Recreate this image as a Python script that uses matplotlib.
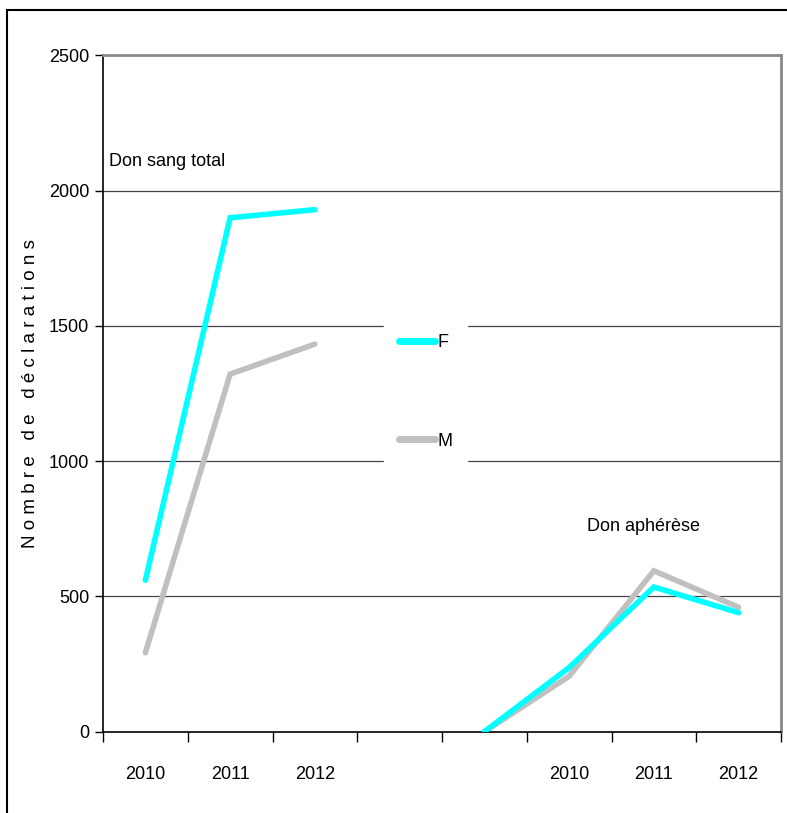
import matplotlib
matplotlib.use('Agg')
import matplotlib.pyplot as plt
from matplotlib.patches import Rectangle
import numpy as np

plt.rcParams['font.family'] = ['Liberation Sans', 'DejaVu Sans']

# Categories: blood donation group, gap, apheresis group
categories = ['2010', '2011', '2012', '', '', '2010', '2011', '2012']
femmes = [560, 1900, 1930, np.nan, 0, 237, 535, 440]
hommes = [292, 1322, 1433, np.nan, 0, 205, 595, 460]

CYAN = '#00FFFF'
GRIS = '#C0C0C0'

W, H = 787, 813
fig = plt.figure(figsize=(W / 100, H / 100), dpi=100)
ax = fig.add_axes([103 / W, (H - 731.7) / H, (781 - 103) / W, (731.7 - 55.5) / H])

x = np.arange(len(categories)) + 0.5
ax.plot(x, femmes, color=CYAN, lw=4, solid_capstyle='round', solid_joinstyle='miter', label='F', zorder=3)
ax.plot(x, hommes, color=GRIS, lw=4, solid_capstyle='round', solid_joinstyle='miter', label='M', zorder=2)

ax.set_xlim(0, len(categories))
ax.set_ylim(0, 2500)

# ticks on category boundaries, labels centred between them
ax.set_xticks(np.arange(len(categories) + 1))
ax.set_xticklabels([])
ax.set_xticks(x, minor=True)
ax.set_xticklabels(categories, minor=True, fontsize=13)
ax.tick_params(axis='x', which='major', direction='out', length=7, width=1, color='black')
ax.tick_params(axis='x', which='minor', length=0, pad=25)

ax.set_yticks([0, 500, 1000, 1500, 2000, 2500])
ax.set_yticklabels(['0', '500', '1000', '1500', '2000', '2500'], fontsize=13)
ax.tick_params(axis='y', direction='out', length=6, width=1, color='black', pad=4)

for v in [500, 1000, 1500, 2000]:
    ax.axhline(v, color='#444444', lw=0.9, zorder=1)

for side in ['left', 'bottom']:
    ax.spines[side].set_color('black')
    ax.spines[side].set_linewidth(1.2)
for side in ['top', 'right']:
    ax.spines[side].set_color('#888888')
    ax.spines[side].set_linewidth(2)

ax.set_ylabel(' '.join('Nombre de déclarations'), fontsize=13.5, labelpad=7)

ax.text(0.07, 2108, 'Don sang total', fontsize=13, va='center', ha='left')
ax.text(6.38, 757, 'Don aphérèse', fontsize=13, va='center', ha='center')

leg = ax.legend(loc='center', bbox_to_anchor=(0.476, 0.5025), fontsize=13,
                frameon=True, fancybox=False, handlelength=2.0, handletextpad=0.15,
                labelspacing=4.5, borderpad=0.8)
leg.get_frame().set_facecolor('white')
leg.get_frame().set_edgecolor('white')
leg.get_frame().set_alpha(1)
for line in leg.get_lines():
    line.set_linewidth(5)
    line.set_solid_capstyle('round')

# outer chart frame
fig.patches.append(Rectangle((7 / W, -0.1), 1.2, (H - 10) / H + 0.1, transform=fig.transFigure,
                             fill=False, edgecolor='black', lw=1.5))

fig.savefig('out.png', dpi=100)
